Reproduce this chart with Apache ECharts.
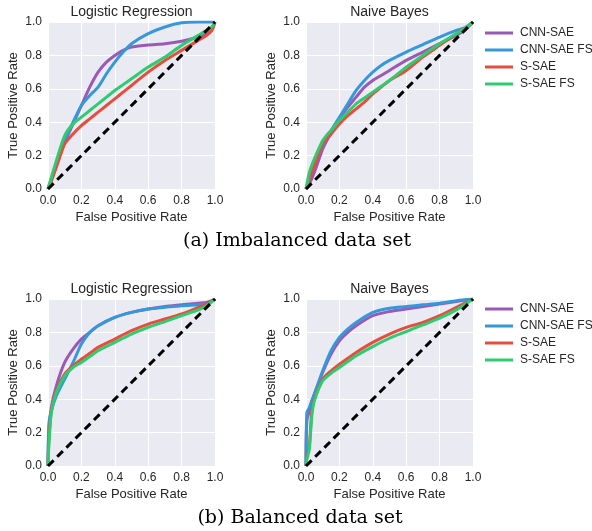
<!DOCTYPE html>
<html>
<head>
<meta charset="utf-8">
<script src="https://cdn.jsdelivr.net/npm/echarts@6/dist/echarts.min.js"></script>
<style>
  html, body { margin: 0; padding: 0; background: #fff; }
  #chart { width: 592px; height: 531px; }
</style>
</head>
<body>
<div id="chart"></div>
<script>
var names = ['CNN-SAE', 'CNN-SAE FS', 'S-SAE', 'S-SAE FS'];
var colors = ['#9b59b6', '#3498db', '#e74c3c', '#2ecc71'];
var titles = ['Logistic Regression', 'Naive Bayes', 'Logistic Regression', 'Naive Bayes'];

// (a) imbalanced, logistic regression
var fprA1 = [0, 0.02, 0.05, 0.1, 0.15, 0.2, 0.25, 0.3, 0.35, 0.4, 0.45, 0.5, 0.6, 0.7, 0.8, 0.9, 0.95, 0.98, 1.0];
var cnnA1   = [0, 0.05, 0.14, 0.28, 0.39, 0.50, 0.61, 0.70, 0.76, 0.80, 0.83, 0.85, 0.862, 0.87, 0.885, 0.91, 0.93, 0.95, 1.0];
var cnnFsA1 = [0, 0.06, 0.15, 0.29, 0.40, 0.50, 0.56, 0.61, 0.69, 0.76, 0.82, 0.87, 0.93, 0.97, 0.995, 1.0, 1.0, 1.0, 1.0];
var ssaeA1  = [0, 0.05, 0.13, 0.27, 0.33, 0.38, 0.42, 0.46, 0.50, 0.54, 0.58, 0.62, 0.70, 0.77, 0.83, 0.89, 0.92, 0.95, 1.0];
var ssFsA1  = [0, 0.07, 0.17, 0.32, 0.39, 0.43, 0.47, 0.51, 0.55, 0.59, 0.625, 0.66, 0.73, 0.79, 0.86, 0.92, 0.95, 0.97, 1.0];

// (a) imbalanced, naive bayes
var fprA2 = [0, 0.02, 0.05, 0.1, 0.13, 0.15, 0.2, 0.25, 0.3, 0.35, 0.4, 0.45, 0.5, 0.6, 0.7, 0.8, 0.9, 0.95, 1.0];
var cnnA2   = [0, 0.03, 0.10, 0.24, 0.30, 0.33, 0.42, 0.49, 0.55, 0.61, 0.65, 0.68, 0.71, 0.77, 0.82, 0.87, 0.92, 0.95, 1.0];
var cnnFsA2 = [0, 0.06, 0.15, 0.26, 0.32, 0.35, 0.43, 0.51, 0.59, 0.65, 0.70, 0.74, 0.77, 0.82, 0.865, 0.91, 0.95, 0.965, 1.0];
var ssaeA2  = [0, 0.06, 0.14, 0.27, 0.31, 0.33, 0.39, 0.44, 0.48, 0.52, 0.57, 0.61, 0.65, 0.71, 0.79, 0.86, 0.93, 0.96, 1.0];
var ssFsA2  = [0, 0.10, 0.18, 0.29, 0.33, 0.35, 0.41, 0.46, 0.51, 0.545, 0.58, 0.615, 0.65, 0.73, 0.80, 0.87, 0.93, 0.96, 1.0];

// (b) balanced, logistic regression
var fprB1 = [0, 0.005, 0.02, 0.05, 0.1, 0.15, 0.2, 0.25, 0.3, 0.4, 0.5, 0.6, 0.7, 0.8, 0.9, 0.95, 1.0];
var cnnB1   = [0, 0.20, 0.35, 0.48, 0.62, 0.70, 0.76, 0.80, 0.84, 0.89, 0.92, 0.94, 0.955, 0.965, 0.975, 0.98, 1.0];
var cnnFsB1 = [0, 0.25, 0.33, 0.42, 0.52, 0.62, 0.73, 0.80, 0.84, 0.89, 0.92, 0.94, 0.95, 0.96, 0.965, 0.97, 1.0];
var ssaeB1  = [0, 0.15, 0.33, 0.45, 0.55, 0.60, 0.64, 0.675, 0.71, 0.76, 0.81, 0.85, 0.88, 0.91, 0.95, 0.97, 1.0];
var ssFsB1  = [0, 0.12, 0.32, 0.44, 0.54, 0.59, 0.62, 0.655, 0.69, 0.74, 0.79, 0.83, 0.865, 0.90, 0.935, 0.96, 1.0];

// (b) balanced, naive bayes
var fprB2 = [0, 0.005, 0.02, 0.035, 0.05, 0.1, 0.15, 0.2, 0.25, 0.3, 0.4, 0.5, 0.6, 0.7, 0.8, 0.9, 1.0];
var cnnB2   = [0, 0.27, 0.33, 0.39, 0.43, 0.56, 0.67, 0.75, 0.80, 0.84, 0.90, 0.925, 0.94, 0.955, 0.97, 0.985, 1.0];
var cnnFsB2 = [0, 0.32, 0.35, 0.39, 0.43, 0.57, 0.69, 0.77, 0.82, 0.86, 0.92, 0.945, 0.955, 0.965, 0.975, 0.99, 1.0];
var ssaeB2  = [0, 0.05, 0.12, 0.33, 0.40, 0.52, 0.57, 0.61, 0.645, 0.68, 0.74, 0.79, 0.83, 0.86, 0.90, 0.95, 1.0];
var ssFsB2  = [0, 0.04, 0.10, 0.30, 0.39, 0.51, 0.555, 0.59, 0.625, 0.66, 0.715, 0.765, 0.805, 0.845, 0.885, 0.935, 1.0];

var panels = [
  { fpr: fprA1, tpr: [cnnA1, cnnFsA1, ssaeA1, ssFsA1] },
  { fpr: fprA2, tpr: [cnnA2, cnnFsA2, ssaeA2, ssFsA2] },
  { fpr: fprB1, tpr: [cnnB1, cnnFsB1, ssaeB1, ssFsB1] },
  { fpr: fprB2, tpr: [cnnB2, cnnFsB2, ssaeB2, ssFsB2] }
];

var gridPos = [[48, 22], [306, 22], [48, 299], [306, 299]];
var textColor = '#262626';
var font = 'Liberation Sans, Arial, sans-serif';

var grids = [], xAxes = [], yAxes = [], series = [], graphics = [];

function zip(xs, ys) {
  return xs.map(function (x, i) { return [x, ys[i]]; });
}

gridPos.forEach(function (p, g) {
  grids.push({
    left: p[0], top: p[1], width: 167, height: 167,
    show: true, backgroundColor: '#EAEAF2', borderWidth: 0
  });
  var axisBase = {
    gridIndex: g, type: 'value', min: 0, max: 1, interval: 0.2,
    axisLine: { show: false }, axisTick: { show: false },
    splitLine: { lineStyle: { color: '#ffffff', width: 1 } },
    nameLocation: 'middle',
    nameTextStyle: { fontSize: 13, color: textColor, fontFamily: font },
    axisLabel: {
      fontSize: 12, color: textColor, fontFamily: font, margin: 6,
      formatter: function (v) { return v.toFixed(1); }
    }
  };
  xAxes.push(Object.assign({}, axisBase, { name: 'False Positive Rate', nameGap: 22 }));
  yAxes.push(Object.assign({}, axisBase, { name: 'True Positive Rate', nameGap: 28 }));

  panels[g].tpr.forEach(function (ys, k) {
    series.push({
      type: 'line', name: names[k], xAxisIndex: g, yAxisIndex: g,
      data: zip(panels[g].fpr, ys), showSymbol: false,
      smooth: 0.25,
      lineStyle: { color: colors[k], width: 3 }, itemStyle: { color: colors[k] }
    });
  });
  series.push({
    type: 'line', name: 'chance', xAxisIndex: g, yAxisIndex: g,
    data: [[0, 0], [1, 1]], showSymbol: false, silent: true,
    lineStyle: { color: '#000', width: 3, type: [8, 5] }
  });

  graphics.push({
    type: 'text', x: p[0] + 83.5, y: p[1] - 10,
    style: { text: titles[g], font: '14px ' + font, fill: textColor,
             textAlign: 'center', textVerticalAlign: 'middle' }
  });
});

graphics.push({
  type: 'text', x: 297, y: 241,
  style: { text: '(a) Imbalanced data set', font: '19px "DejaVu Serif", "Liberation Serif", serif',
           fill: '#000', textAlign: 'center', textVerticalAlign: 'middle' }
});
graphics.push({
  type: 'text', x: 300, y: 518,
  style: { text: '(b) Balanced data set', font: '19px "DejaVu Serif", "Liberation Serif", serif',
           fill: '#000', textAlign: 'center', textVerticalAlign: 'middle' }
});

var legendBase = {
  data: names, orient: 'vertical', left: 485, icon: 'rect', padding: 0,
  itemWidth: 28, itemHeight: 3, itemGap: 5,
  textStyle: { fontSize: 12, color: textColor, fontFamily: font, padding: [0, 0, 0, 2] }
};

var option = {
  animation: false,
  backgroundColor: '#ffffff',
  color: colors,
  grid: grids,
  xAxis: xAxes,
  yAxis: yAxes,
  legend: [
    Object.assign({}, legendBase, { top: 27 }),
    Object.assign({}, legendBase, { top: 303 })
  ],
  graphic: graphics,
  series: series
};

var myChart = echarts.init(document.getElementById('chart'));
myChart.setOption(option);
</script>
</body>
</html>
